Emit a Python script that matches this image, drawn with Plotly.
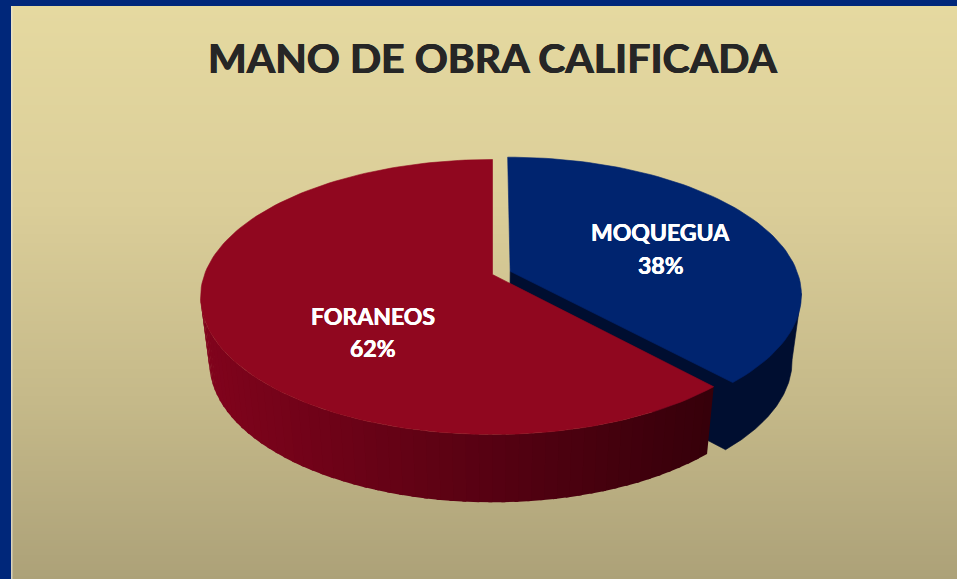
import math
import plotly.graph_objects as go

# Data
labels = ["MOQUEGUA", "FORANEOS"]
values = [38.2, 61.8]
title_text = "MANO DE OBRA CALIFICADA"

# Style / geometry
W, H = 957, 579
BORDER = "#00277A"
TOP_COLORS = ["#00246F", "#90071F"]
CX, CY, A, B, K = 492.5, 274.5, 133.8, 288.0, 0.1636
LOW_DY, LOW_SX, LOW_SY = 65.5, 0.97, 1.015
EXPLODE = 0.066
BG_STOPS = [(6, (229, 217, 160)), (200, (219, 206, 153)), (400, (197, 185, 137)), (579, (172, 161, 120))]


def project(u, v, low=False):
    """u to the right, v towards the viewer, both in radius units."""
    d = 1 - K * v
    x = B * u / d
    y = A * v / d
    if low:
        return CX + LOW_SX * x, CY + LOW_DY + LOW_SY * y
    return CX + x, CY + y


def polar(theta, off):
    return off[0] + math.sin(theta), off[1] - math.cos(theta)


def lerp(c1, c2, t):
    return tuple(c1[i] + (c2[i] - c1[i]) * t for i in range(3))


def rgb(c):
    return "rgb(%d,%d,%d)" % tuple(round(v) for v in c)


def poly(fig, pts, color, name, lw=0.6):
    xs = [p[0] for p in pts] + [pts[0][0]]
    ys = [p[1] for p in pts] + [pts[0][1]]
    fig.add_trace(go.Scatter(x=xs, y=ys, mode="lines", fill="toself", fillcolor=color,
                             line=dict(color=color, width=lw), name=name, hoverinfo="name",
                             showlegend=False))


total = sum(values)
split = 2 * math.pi * values[0] / total
mid = split / 2
off_blue = (EXPLODE * math.sin(mid), -EXPLODE * math.cos(mid))
off_red = (0.0, 0.0)
silhouette = math.asin(K)

fig = go.Figure()

# MOQUEGUA wedge: cut face and outer wall as one dark body, then top
apex_t = project(*off_blue)
apex_l = project(*off_blue, low=True)
n = 80
wall_from = math.pi / 2 + silhouette
arc = [polar(wall_from + (split - wall_from) * i / n, off_blue) for i in range(n + 1)]
poly(fig, [apex_t, project(*arc[0])] + [project(*p, low=True) for p in arc] + [apex_l], "#000E30", labels[0])
arc = [polar(split * i / n, off_blue) for i in range(n + 1)]
poly(fig, [apex_t] + [project(*p) for p in arc], TOP_COLORS[0], labels[0])

# FORANEOS wedge: banded outer wall, top
steps = 55
wall_left, wall_right = (128, 3, 28), (54, 0, 10)
start, end = split, 2 * math.pi
wall_end = 3 * math.pi / 2 - silhouette
for i in range(steps):
    t0 = start + (wall_end - start) * i / steps
    t1 = start + (wall_end - start) * min(steps, i + 1.3) / steps
    sub = [polar(t0 + (t1 - t0) * j / 4, off_red) for j in range(5)]
    pts = [project(*p) for p in sub] + [project(*p, low=True) for p in reversed(sub)]
    xm = (pts[0][0] + pts[4][0]) / 2
    f = min(1, max(0, (xm - 205) / 505))
    poly(fig, pts, rgb(lerp(wall_left, wall_right, f)), labels[1], lw=0)

m = 140
arc = [polar(start + (end - start) * i / m, off_red) for i in range(m + 1)]
poly(fig, [project(*off_red)] + [project(*p) for p in arc], TOP_COLORS[1], labels[1])

# Slice labels: name line and percentage line
label_pos = [(660.5, 232, 265), (373, 316, 348)]
for (x, y1, y2), lab, val in zip(label_pos, labels, values):
    for y, txt in ((y1, lab), (y2, f"{round(val / total * 100)}%")):
        fig.add_annotation(x=x, y=y, xref="x", yref="y", showarrow=False, align="center", text=txt,
                           font=dict(family="Lato", size=23, color="white", weight="bold",
                                     shadow="0.3px 0 0 white, -0.3px 0 0 white"))

# Background gradient panel
shapes = []
for y in range(BG_STOPS[0][0], H, 3):
    for (y0, c0), (y1, c1) in zip(BG_STOPS, BG_STOPS[1:]):
        if y0 <= y <= y1:
            col = rgb(lerp(c0, c1, (y - y0) / (y1 - y0)))
            break
    shapes.append(dict(type="rect", xref="x", yref="y", x0=11, x1=W, y0=y, y1=y + 3,
                       fillcolor=col, line=dict(width=0), layer="below"))
shapes.append(dict(type="rect", xref="x", yref="y", x0=11, x1=12.5, y0=6, y1=H,
                   fillcolor="rgba(235,230,215,0.7)", line=dict(width=0), layer="below"))

fig.update_layout(
    width=W, height=H, autosize=False,
    margin=dict(l=0, r=0, t=0, b=0),
    paper_bgcolor=BORDER, plot_bgcolor=BORDER,
    showlegend=False, shapes=shapes,
    title=dict(text=f"<b>{title_text}</b>", x=492.5 / W, xanchor="center", y=1 - 58.5 / H, yanchor="middle",
               font=dict(family="Lato", size=41, color="#262626",
                         shadow="0.5px 0 0 #262626, -0.5px 0 0 #262626")),
    xaxis=dict(range=[0, W], visible=False, fixedrange=True),
    yaxis=dict(range=[H, 0], visible=False, fixedrange=True),
)
fig.write_html("out.html", config={"displayModeBar": False},
               post_script="document.body.style.margin='0';document.documentElement.style.overflow='hidden';")
